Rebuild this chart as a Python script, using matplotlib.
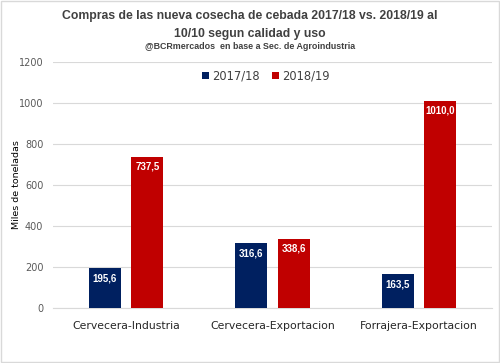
import numpy as np
import matplotlib.pyplot as plt
from matplotlib.patches import Rectangle

categories = ['Cervecera-Industria', 'Cervecera-Exportacion', 'Forrajera-Exportacion']
series_names = ['2017/18', '2018/19']
vals_1718 = [195.6, 316.6, 163.5]
vals_1819 = [737.5, 338.6, 1010.0]
yticks = [0, 200, 400, 600, 800, 1000, 1200]

blue = '#002060'
red = '#C00000'
narrow = ['Liberation Sans', 'DejaVu Sans']

fig = plt.figure(figsize=(5, 3.63), dpi=100)
ax = fig.add_axes([0.106, 0.1515, 0.878, 0.678])

x = np.arange(len(categories))
w = 0.22
off = 0.145
b1 = ax.bar(x - off, vals_1718, w, color=blue, label=series_names[0], zorder=3)
b2 = ax.bar(x + off, vals_1819, w, color=red, label=series_names[1], zorder=3)

for bars, vals in ((b1, vals_1718), (b2, vals_1819)):
    for r, v in zip(bars, vals):
        ax.text(r.get_x() + r.get_width() / 2, v - 25, f'{v:.1f}'.replace('.', ','),
                ha='center', va='top', color='white', fontsize=7,
                fontweight='bold', family=narrow, zorder=4)

ax.set_ylim(0, 1200)
ax.set_xlim(-0.5, 2.5)
ax.set_yticks(yticks)
ax.set_yticklabels([str(t) for t in yticks], fontsize=7, color='#595959')
ax.set_xticks(x)
ax.set_xticklabels(categories, fontsize=7.8, color='#262626')
ax.tick_params(axis='both', length=0)
ax.tick_params(axis='x', pad=9)
ax.tick_params(axis='y', pad=7)
ax.yaxis.grid(True, color='#D9D9D9', linewidth=0.8, zorder=0)
for s in ['top', 'right', 'left']:
    ax.spines[s].set_visible(False)
ax.spines['bottom'].set_color('#D9D9D9')
ax.set_ylabel('Miles de toneladas', fontsize=6.8, color='black', labelpad=-2)

ax.legend(loc='upper center', bbox_to_anchor=(0.485, 1.012), ncol=2, frameon=False,
          fontsize=8.3, handlelength=0.6, handleheight=0.6, handletextpad=0.3,
          columnspacing=1.0, labelcolor='#404040')

fig.text(0.5, 0.957, 'Compras de las nueva cosecha de cebada 2017/18 vs. 2018/19 al',
         ha='center', va='center', fontsize=8.8, fontweight='bold', color='#404040',
         family=narrow)
fig.text(0.5, 0.907, '10/10 segun calidad y uso',
         ha='center', va='center', fontsize=8.8, fontweight='bold', color='#404040',
         family=narrow)
fig.text(0.5, 0.872, '@BCRmercados  en base a Sec. de Agroindustria',
         ha='center', va='center', fontsize=6.4, fontweight='bold', color='#404040',
         family=narrow)

fig.patches.append(Rectangle((0.002, 0.002), 0.996, 0.996, transform=fig.transFigure,
                             fill=False, edgecolor='#D9D9D9', linewidth=1))

fig.savefig('out.png', dpi=100)
